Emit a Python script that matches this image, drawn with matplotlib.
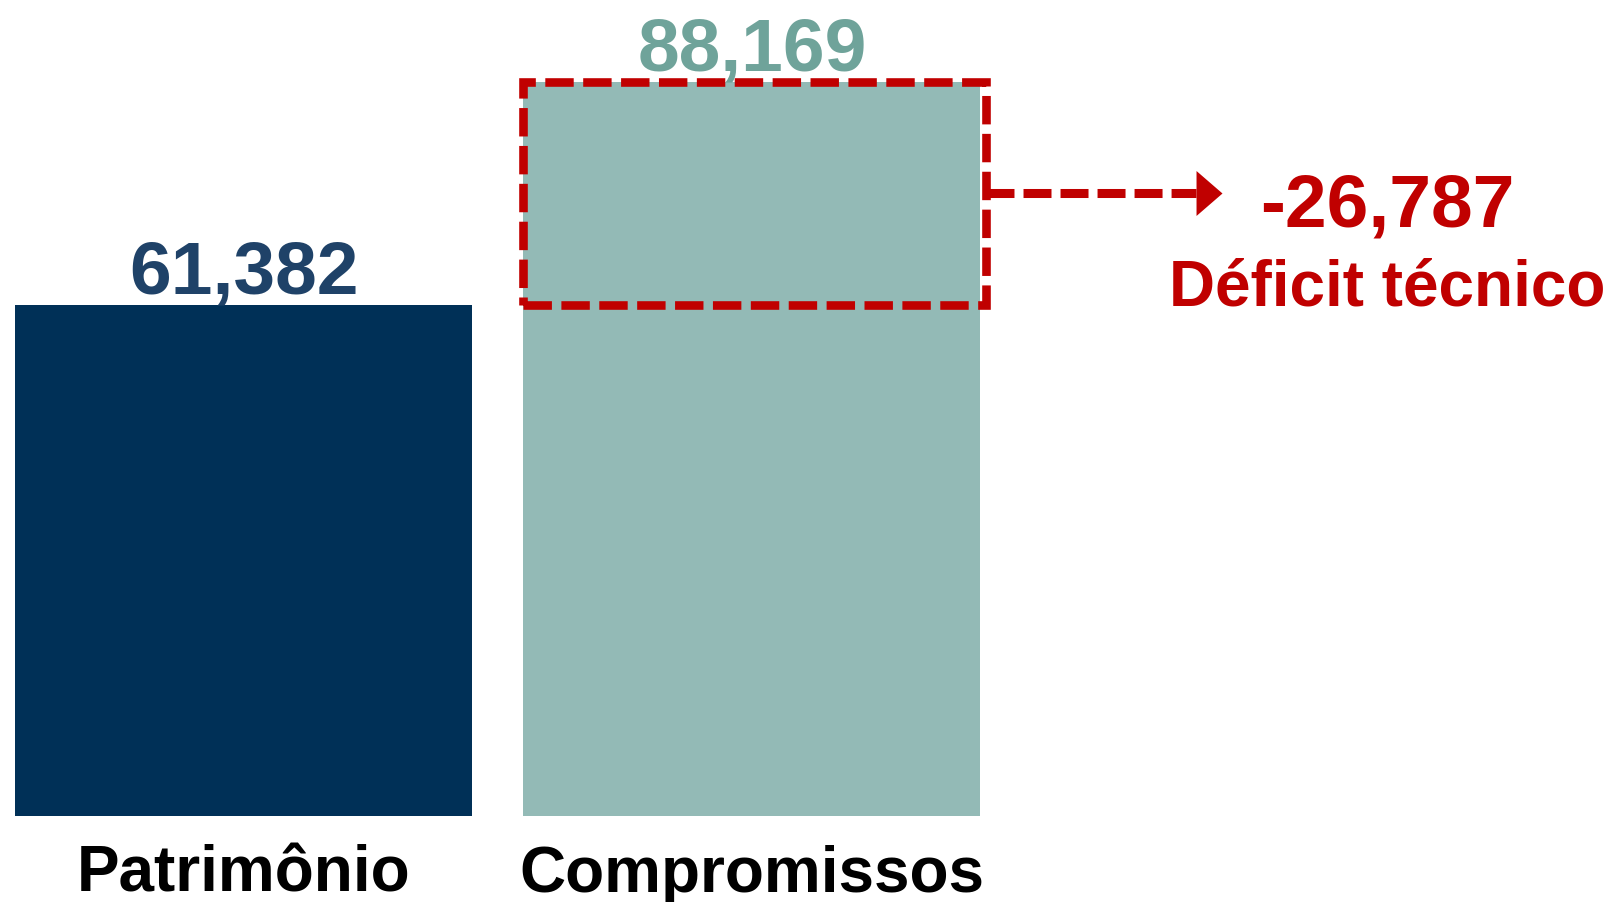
import numpy as np
import matplotlib
matplotlib.use("Agg")
import matplotlib.pyplot as plt

# data
categories = ["Patrimônio", "Compromissos"]
values = [61382, 88169]
value_labels = ["61,382", "88,169"]
deficit = values[0] - values[1]
deficit_label = "-26,787"
deficit_text = "Déficit técnico"

bar_colors = ["#003057", "#93BAB6"]
label_colors = ["#1F4268", "#6FA39A"]
red = "#C00000"

plt.rcParams['font.family'] = ['Liberation Sans', 'DejaVu Sans']

fig = plt.figure(figsize=(16.17, 9.03), dpi=100)
ax = fig.add_axes([0, 86 / 903, 1, 817 / 903])
ax.set_xlim(-0.480, 2.703)
ax.set_ylim(0, 98139)
ax.axis("off")

x = np.arange(len(categories))
w = 0.9
ax.bar(x, values, width=w, color=bar_colors)

# value labels above bars
for xi, v, lab, c in zip(x, values, value_labels, label_colors):
    ax.annotate(lab, xy=(xi, v), xytext=(0, 9), textcoords="offset points",
                ha="center", va="baseline", fontsize=54, fontweight="bold",
                color=c)

# category labels below bars
for xi, cat in zip(x, categories):
    ax.annotate(cat, xy=(xi, 0), xytext=(0, -54), textcoords="offset points",
                ha="center", va="baseline", fontsize=46, fontweight="bold",
                color="black")

# dashed box around the gap
left = x[1] - w / 2
right = x[1] + w / 2 + 0.01
box = plt.Rectangle((left, values[0]), right - left, values[1] - values[0],
                    fill=False, edgecolor=red, linewidth=6.2,
                    linestyle=(0, (3.3, 1.1)), joinstyle="miter")
ax.add_patch(box)

# dashed arrow
ymid = (values[0] + values[1]) / 2
tip = 1.925
head_len = 26 / 508
ax.plot([right, tip - head_len], [ymid, ymid], color=red, linewidth=6.5,
        linestyle=(0, (3.1, 1.0)), solid_capstyle="butt", dash_capstyle="butt")
head = [(0, 0), (-26, 22.5), (-26, -22.5), (0, 0)]
ax.plot([tip], [ymid], marker=head, markersize=37.4, color=red,
        markeredgewidth=0)

# deficit text
ax.text(2.25, ymid - 32 * 120.1, deficit_label, ha="center", va="baseline",
        fontsize=54, fontweight="bold", color=red)
ax.text(2.25, values[0], deficit_text, ha="center", va="baseline",
        fontsize=46, fontweight="bold", color=red)

fig.savefig("out.png", dpi=100)
